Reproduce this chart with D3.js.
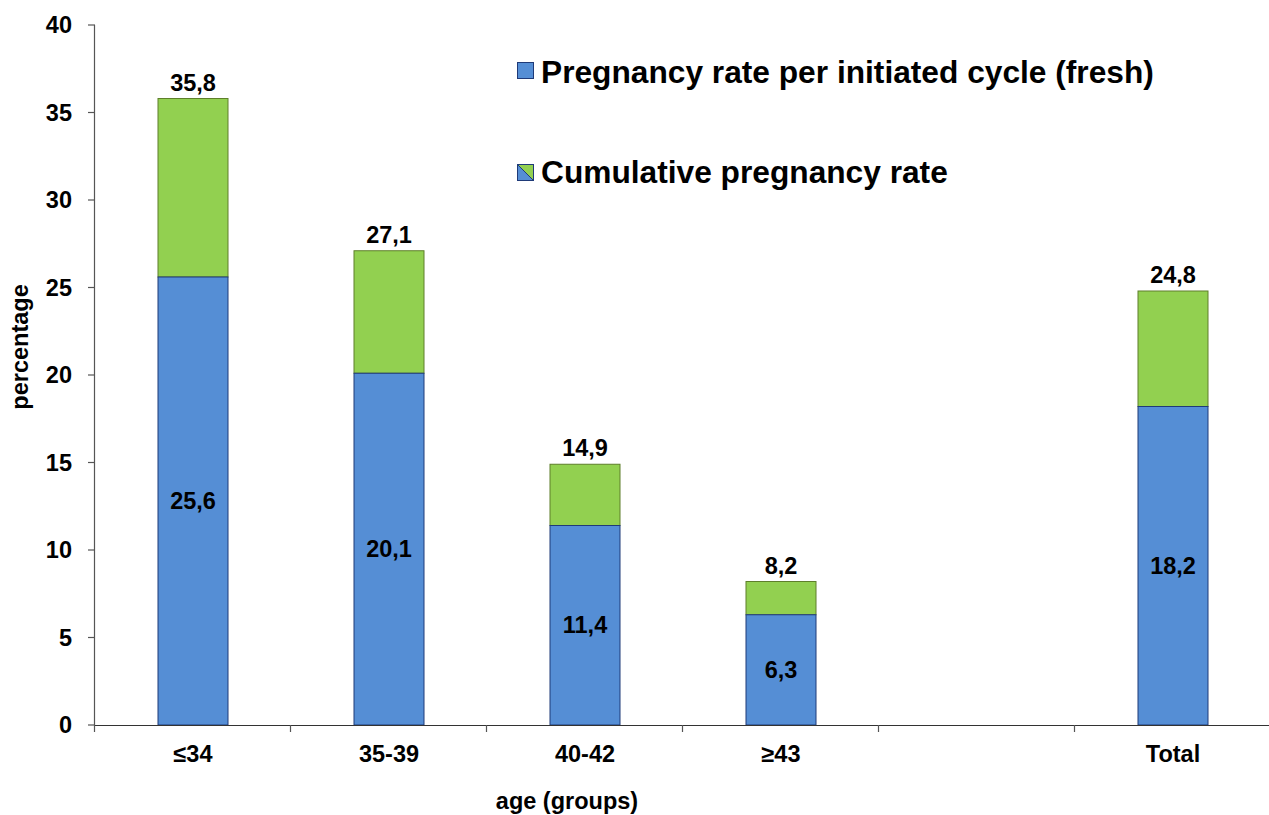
<!DOCTYPE html>
<html><head><meta charset="utf-8">
<script src="https://cdn.jsdelivr.net/npm/d3@7"></script>
<style>body{margin:0;background:#fff}svg{display:block}text{font-family:"Liberation Sans",Arial,sans-serif;font-weight:bold;fill:#000}</style>
</head><body><svg id="c" width="1269" height="815"></svg>
<script>
const categories = ["≤34","35-39","40-42","≥43","","Total"];
const freshRate = [25.6,20.1,11.4,6.3,null,18.2];
const cumulativeRate = [35.8,27.1,14.9,8.2,null,24.8];
const yTicks = [0,5,10,15,20,25,30,35,40];
const legendLabels = ["Pregnancy rate per initiated cycle (fresh)","Cumulative pregnancy rate"];

(function(){
const svg = d3.select("#c");
const pLeft = 95, pRight = 1271, pTop = 25, pBottom = 725;
const x = d3.scaleBand().domain(d3.range(categories.length)).range([pLeft, pRight]).paddingInner(0).paddingOuter(0);
const y = d3.scaleLinear().domain([0,40]).range([pBottom, pTop]);
const bw = 70;
const fs = 23.5;
const fmt = v => v.toFixed(1).replace(".", ",");
const blue = "#558ED5", blueEdge = "#1F3A78", green = "#92D050", greenEdge = "#5E7F2A";

// y axis
svg.append("line").attr("x1",pLeft-0.5).attr("x2",pLeft-0.5).attr("y1",pTop).attr("y2",pBottom).attr("stroke","#555").attr("stroke-width",1.2);
yTicks.forEach(t=>{
  svg.append("line").attr("x1",pLeft-7).attr("x2",pLeft).attr("y1",y(t)).attr("y2",y(t)).attr("stroke","#555").attr("stroke-width",1.2);
  svg.append("text").attr("x",72).attr("y",y(t)).attr("dy","0.35em").attr("text-anchor","end").attr("font-size",fs).text(t);
});

// bars
categories.forEach((c,i)=>{
  if (freshRate[i]==null) return;
  const cx = x(i)+x.bandwidth()/2;
  svg.append("rect").attr("x",cx-bw/2).attr("width",bw).attr("y",y(cumulativeRate[i])).attr("height",y(freshRate[i])-y(cumulativeRate[i]))
    .attr("fill",green).attr("stroke",greenEdge).attr("stroke-width",1);
  svg.append("rect").attr("x",cx-bw/2).attr("width",bw).attr("y",y(freshRate[i])).attr("height",pBottom-y(freshRate[i]))
    .attr("fill",blue).attr("stroke",blueEdge).attr("stroke-width",1);
  svg.append("text").attr("x",cx).attr("y",y(cumulativeRate[i])-8).attr("text-anchor","middle").attr("font-size",fs).text(fmt(cumulativeRate[i]));
  svg.append("text").attr("x",cx).attr("y",(y(freshRate[i])+pBottom)/2).attr("dy","0.35em").attr("text-anchor","middle").attr("font-size",fs).text(fmt(freshRate[i]));
});

// x axis
svg.append("line").attr("x1",pLeft-0.5).attr("x2",1269).attr("y1",pBottom+0.5).attr("y2",pBottom+0.5).attr("stroke","#333").attr("stroke-width",1.2);
d3.range(categories.length).forEach(i=>{
  const xx = Math.round(x(i))-0.5;
  svg.append("line").attr("x1",xx).attr("x2",xx).attr("y1",pBottom).attr("y2",pBottom+7).attr("stroke","#555").attr("stroke-width",1.2);
  svg.append("text").attr("x",x(i)+x.bandwidth()/2).attr("y",754).attr("dy","0.35em").attr("text-anchor","middle").attr("font-size",fs).text(categories[i]);
});

// axis titles
svg.append("text").attr("x",567).attr("y",801).attr("dy","0.35em").attr("text-anchor","middle").attr("font-size",fs).text("age (groups)");
svg.append("text").attr("transform","translate(20,347) rotate(-90)").attr("dy","0.35em").attr("text-anchor","middle").attr("font-size",fs).text("percentage");

// legend
const lg = svg.append("g");
lg.append("rect").attr("x",517.5).attr("y",62.5).attr("width",16).attr("height",16).attr("fill",blue).attr("stroke",blueEdge).attr("stroke-width",1);
lg.append("text").attr("x",541).attr("y",72).attr("dy","0.35em").attr("font-size",31.7).text(legendLabels[0]);
const mx = 517.5, my = 164.5, ms = 16;
lg.append("path").attr("d",`M${mx},${my}L${mx+ms},${my}L${mx+ms},${my+ms}Z`).attr("fill",green);
lg.append("path").attr("d",`M${mx},${my}L${mx},${my+ms}L${mx+ms},${my+ms}Z`).attr("fill",blue);
lg.append("rect").attr("x",mx).attr("y",my).attr("width",ms).attr("height",ms).attr("fill","none").attr("stroke",blueEdge).attr("stroke-width",1);
lg.append("line").attr("x1",mx).attr("y1",my).attr("x2",mx+ms).attr("y2",my+ms).attr("stroke",blueEdge).attr("stroke-width",1);
lg.append("text").attr("x",541).attr("y",172).attr("dy","0.35em").attr("font-size",31.7).text(legendLabels[1]);
})();
</script></body></html>
